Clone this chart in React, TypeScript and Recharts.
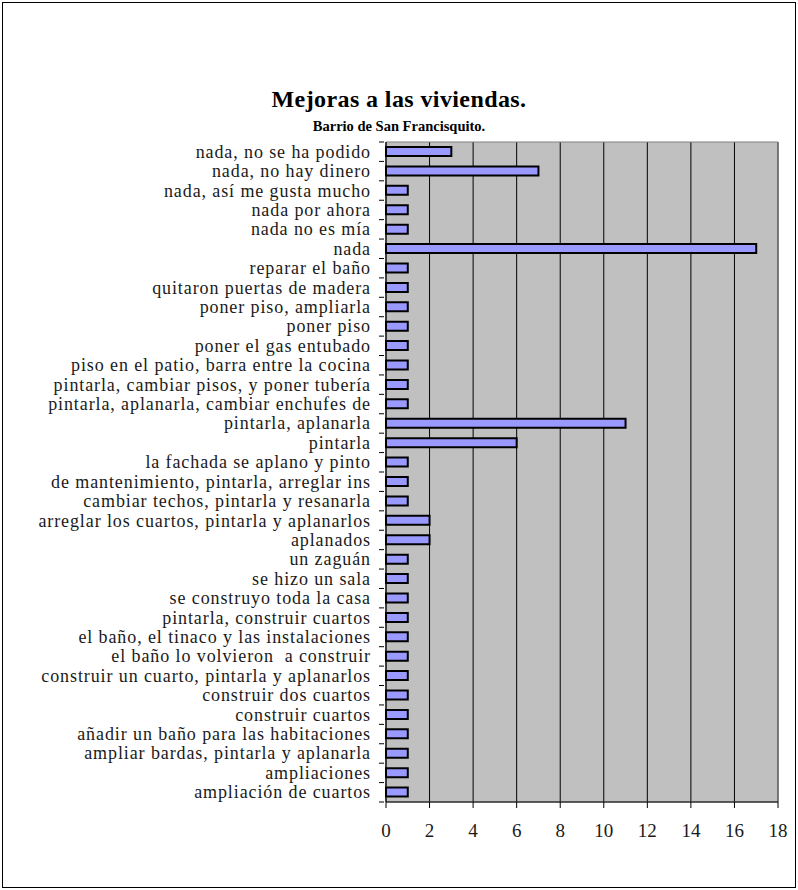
import { Bar, BarChart, CartesianGrid, ReferenceArea, XAxis, YAxis } from "recharts";

const categories = [
  "nada, no se ha podido",
  "nada, no hay dinero",
  "nada, así me gusta mucho",
  "nada por ahora",
  "nada no es mía",
  "nada",
  "reparar el baño",
  "quitaron puertas de madera",
  "poner piso, ampliarla",
  "poner piso",
  "poner el gas entubado",
  "piso en el patio, barra entre la cocina",
  "pintarla, cambiar pisos, y poner tubería",
  "pintarla, aplanarla, cambiar enchufes de",
  "pintarla, aplanarla",
  "pintarla",
  "la fachada se aplano y pinto",
  "de mantenimiento, pintarla, arreglar ins",
  "cambiar techos, pintarla y resanarla",
  "arreglar los cuartos, pintarla y aplanarlos",
  "aplanados",
  "un zaguán",
  "se hizo un sala",
  "se construyo toda la casa",
  "pintarla, construir cuartos",
  "el baño, el tinaco y las instalaciones",
  "el baño lo volvieron  a construir",
  "construir un cuarto, pintarla y aplanarlos",
  "construir dos cuartos",
  "construir cuartos",
  "añadir un baño para las habitaciones",
  "ampliar bardas, pintarla y aplanarla",
  "ampliaciones",
  "ampliación de cuartos",
];

const counts = [3, 7, 1, 1, 1, 17, 1, 1, 1, 1, 1, 1, 1, 1, 11, 6, 1, 1, 1, 2, 2, 1, 1, 1, 1, 1, 1, 1, 1, 1, 1, 1, 1, 1];

const xTicks = [0, 2, 4, 6, 8, 10, 12, 14, 16, 18];

const data = categories.map((name, i) => ({ name, value: counts[i] }));

const FONT = "'Liberation Serif', 'Times New Roman', serif";
const PLOT_TOP = 142;
const PLOT_BOTTOM = 802;
const BAND = (PLOT_BOTTOM - PLOT_TOP) / categories.length;

function CategoryTick(props: any) {
  const { x, y, payload, index } = props;
  const top = y - BAND / 2;
  return (
    <g>
      <line x1={x + 1} x2={x + 6} y1={top} y2={top} stroke="#000" />
      {index === categories.length - 1 && (
        <line x1={x + 1} x2={x + 6} y1={top + BAND} y2={top + BAND} stroke="#000" />
      )}
      <text
        x={x - 7}
        y={y}
        textAnchor="end"
        dominantBaseline="central"
        fontFamily={FONT}
        fontSize={18}
        letterSpacing={0.9}
        fill="#1a1a1a"
        style={{ whiteSpace: "pre" }}
      >
        {payload.value}
      </text>
    </g>
  );
}

export default function App() {
  return (
    <div
      style={{
        position: "absolute",
        left: 0,
        top: 0,
        width: 798,
        height: 890,
        background: "#fff",
      }}
    >
      <div
        style={{
          position: "absolute",
          left: 2,
          top: 2,
          width: 792,
          height: 884,
          border: "1px solid #000",
        }}
      />
      <div
        style={{
          position: "absolute",
          left: 0,
          width: 798,
          top: 85,
          textAlign: "center",
          fontFamily: FONT,
          fontWeight: "bold",
          fontSize: 24,
          letterSpacing: 0.4,
          lineHeight: "28px",
        }}
      >
        Mejoras a las viviendas.
      </div>
      <div
        style={{
          position: "absolute",
          left: 0,
          width: 798,
          top: 117,
          textAlign: "center",
          fontFamily: FONT,
          fontWeight: "bold",
          fontSize: 14.5,
          lineHeight: "18px",
        }}
      >
        Barrio de San Francisquito.
      </div>
      <div style={{ position: "absolute", left: 0, top: 0 }}>
        <BarChart
          width={798}
          height={890}
          data={data}
          layout="vertical"
          margin={{ top: PLOT_TOP, right: 20, bottom: 890 - PLOT_BOTTOM - 40, left: 0 }}
          barCategoryGap={0}
        >
          <CartesianGrid horizontal={false} stroke="#000" fill="#C0C0C0" fillOpacity={1} />
          <ReferenceArea x1={0} x2={18} fill="none" stroke="#808080" strokeWidth={1} ifOverflow="visible" />
          <XAxis
            type="number"
            domain={[0, 18]}
            ticks={xTicks}
            interval={0}
            height={40}
            stroke="#000"
            tickSize={6}
            tickMargin={16}
            tick={{ fill: "#1a1a1a", fontSize: 19, fontFamily: FONT }}
          />
          <YAxis
            type="category"
            dataKey="name"
            width={386}
            interval={0}
            stroke="#000"
            tickLine={false}
            tick={<CategoryTick />}
          />
          <Bar dataKey="value" fill="#9999FF" stroke="#000" strokeWidth={2} barSize={9} isAnimationActive={false} />
        </BarChart>
      </div>
    </div>
  );
}
